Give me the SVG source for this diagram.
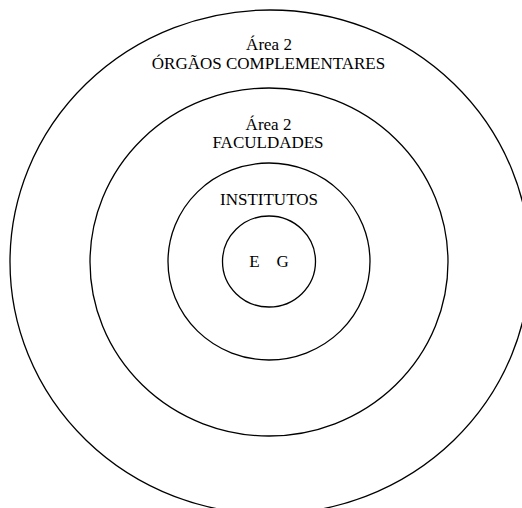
<svg xmlns="http://www.w3.org/2000/svg" width="522" height="508" viewBox="0 0 522 508">
<style>
.ring{fill:none;stroke:#000;stroke-width:1.3}
.t{font-family:"Liberation Serif","Times New Roman",serif;font-size:17px;fill:#000;text-anchor:middle}
</style>
<rect width="522" height="508" fill="#fff"/>
<g id="orgaos">
<ellipse class="ring" cx="270" cy="262" rx="260" ry="252"/>
<text class="t" x="269" y="50">Área 2</text>
<text class="t" x="268.5" y="69">ÓRGÃOS COMPLEMENTARES</text>
</g>
<g id="faculdades">
<ellipse class="ring" cx="269" cy="262" rx="179" ry="174"/>
<text class="t" x="268.5" y="130">Área 2</text>
<text class="t" x="268" y="148">FACULDADES</text>
</g>
<g id="institutos">
<ellipse class="ring" cx="269" cy="261.5" rx="101" ry="98.5"/>
<text class="t" x="269" y="205">INSTITUTOS</text>
</g>
<g id="eg">
<ellipse class="ring" cx="269" cy="261.5" rx="46.5" ry="45.5"/>
<text class="t" x="269" y="267" word-spacing="12.75">E G</text>
</g>
<g id="connectors"/>
</svg>
